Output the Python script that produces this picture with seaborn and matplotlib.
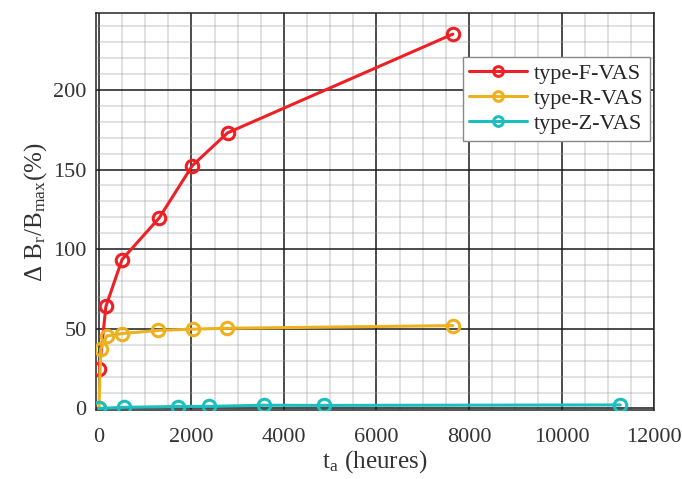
import matplotlib
matplotlib.use("Agg")
import matplotlib.pyplot as plt
import seaborn as sns
import pandas as pd
from matplotlib.ticker import MultipleLocator

# donnees
t_F = [10, 150, 500, 1300, 2020, 2780, 7650]
b_F = [24.5, 64, 93.5, 119.5, 152.5, 173, 235]

t_R = [0, 40, 170, 500, 1280, 2030, 2760, 7650]
b_R = [0, 37.5, 45.5, 47, 49, 49.8, 50.3, 52]

t_Z = [0, 550, 1700, 2380, 3570, 4870, 11270]
b_Z = [0, 0.7, 1.2, 1.3, 2, 1.9, 2.2]

series = ['type-F-VAS', 'type-R-VAS', 'type-Z-VAS']
couleurs = ['#EE1F25', '#EDB120', '#1DBEBE']

sns.set_style("white")
plt.rcParams['font.family'] = ['Liberation Serif', 'DejaVu Serif']
plt.rcParams['mathtext.fontset'] = 'stix'

fig, ax = plt.subplots(figsize=(6.82, 4.79), dpi=100)
fig.subplots_adjust(left=0.141, right=0.959, top=0.972, bottom=0.144)

donnees = [(t_F, b_F), (t_R, b_R), (t_Z, b_Z)]
for (t, b), nom, c in zip(donnees, series, couleurs):
    df = pd.DataFrame({'t': t, 'b': b})
    sns.lineplot(ax=ax, data=df, x='t', y='b', color=c, linewidth=2.2, marker='o',
                 markersize=9, markerfacecolor='none', markeredgecolor=c,
                 markeredgewidth=2.2, label=nom, zorder=3)

ax.set_xlim(-60, 12000)
ax.set_ylim(-1, 248)
ax.xaxis.set_major_locator(MultipleLocator(2000))
ax.xaxis.set_minor_locator(MultipleLocator(500))
ax.yaxis.set_major_locator(MultipleLocator(50))
ax.yaxis.set_minor_locator(MultipleLocator(10))

# grille
ax.grid(which='major', color='#1a1a1a', linewidth=1.1, zorder=1)
ax.grid(which='minor', color='#999999', alpha=0.35, linewidth=1.2, zorder=1)
ax.set_axisbelow(True)

for s in ax.spines.values():
    s.set_color('#262626')
    s.set_linewidth(1.1)

ax.tick_params(which='both', direction='in', labelsize=16, colors='#262626',
               labelcolor='#333333')
ax.tick_params(which='major', length=4)
ax.tick_params(which='minor', length=0)
ax.tick_params(axis='x', pad=13)
ax.tick_params(axis='y', pad=7)

ax.set_xlabel(r't$_\mathregular{a}$ (heures)', fontsize=18, color='#333333', labelpad=1)
ax.set_ylabel(r'Δ B$_\mathregular{r}$/B$_\mathregular{max}$(%)', fontsize=18,
              color='#333333', labelpad=3)

leg = ax.legend(loc='upper right', bbox_to_anchor=(650 / 682, 1 - 57 / 479),
                bbox_transform=fig.transFigure, borderaxespad=0, fontsize=16,
                fancybox=False, framealpha=1, edgecolor='#888888',
                handlelength=2.6, handletextpad=0.3, labelspacing=0.2,
                borderpad=0.3)
leg.get_frame().set_linewidth(1.0)
for h in leg.get_lines():
    h.set_markersize(7)

fig.savefig('out.png', dpi=100)
